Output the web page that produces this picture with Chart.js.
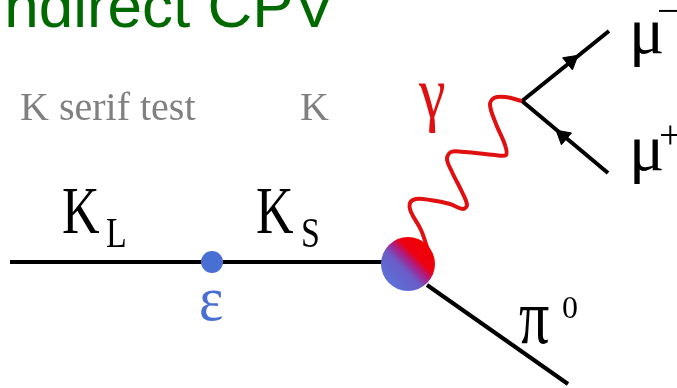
<!DOCTYPE html>
<html>
<head>
<meta charset="utf-8">
<script src="https://cdn.jsdelivr.net/npm/chart.js@4"></script>
</head>
<body style="margin:0">
<canvas id="diagram" width="677" height="388"></canvas>
<script>
// diagram values (x right, y down, in pixels of the 677x388 frame)
const kaonLine = [{ x: 10, y: 262 }, { x: 386, y: 262 }];
const pionLine = [{ x: 427, y: 285 }, { x: 568, y: 384 }];
const muMinusLine = [{ x: 522, y: 101 }, { x: 609, y: 31 }];
const muPlusLine = [{ x: 522, y: 101 }, { x: 608, y: 173 }];
const photonPath = [
    { x: 428, y: 250 }, { x: 421, y: 230 }, { x: 411, y: 212 }, { x: 410, y: 203 },
    { x: 416, y: 199 }, { x: 430, y: 200 }, { x: 450, y: 204 }, { x: 463, y: 209 },
    { x: 467, y: 205 }, { x: 462, y: 192 }, { x: 452, y: 172 }, { x: 447, y: 159 },
    { x: 451, y: 152 }, { x: 465, y: 152 }, { x: 495, y: 155 }, { x: 506, y: 155 },
    { x: 505, y: 145 }, { x: 496, y: 124 }, { x: 490, y: 105 }, { x: 494, y: 98 },
    { x: 505, y: 97 }, { x: 522, y: 101 },
];
const epsilonVertex = [{ x: 212, y: 262 }];
const blobVertex = [{ x: 408, y: 264 }];
const arrowPoints = [{ x: 571, y: 61 }, { x: 563, y: 136 }];
const arrowAngles = [51, -50];

const labelTexts = ["K", "L", "K", "S", "ε", "γ", "μ", "−", "μ", "+", "π", "0", "Indirect CPV",
    "K serif test", "K"];
const labelX = [62, 106, 256, 301, 199, 419, 629, 657, 629, 659, 519, 562, -13, 20, 300];
const labelY = [233, 247, 233, 247, 320, 117, 53, 24, 170, 148, 343, 318, 27, 120, 120];

const labelStyle = [
    { font: '52px "Liberation Serif"', color: "#000", sy: 1.3 },
    { font: '34px "Liberation Serif"', color: "#000", sy: 1.25 },
    { font: '52px "Liberation Serif"', color: "#000", sy: 1.3 },
    { font: '34px "Liberation Serif"', color: "#000", sy: 1.25 },
    { font: '58px "Liberation Serif"', color: "#4a6fd4", sy: 1.1 },
    { font: '60px "Liberation Serif"', color: "#e01010", sy: 1.25 },
    { font: '66px "Liberation Serif"', color: "#000", sy: 1 },
    { font: '40px "Liberation Serif"', color: "#000", sy: 1 },
    { font: '66px "Liberation Serif"', color: "#000", sy: 1 },
    { font: '40px "Liberation Serif"', color: "#000", sy: 1 },
    { font: '60px "Liberation Serif"', color: "#000", sy: 1.3 },
    { font: '32px "Liberation Serif"', color: "#000", sy: 1 },
    { font: '62px "Liberation Sans"', color: "#006a00", sy: 1 },
    { font: '40px "Liberation Serif"', color: "#808080", sy: 1 },
    { font: '40px "Liberation Serif"', color: "#808080", sy: 1 },
];

const labelPlugin = {
    id: "labels",
    afterDatasetsDraw(chart) {
        const c = chart.ctx;
        const xs = chart.scales.x;
        const ys = chart.scales.y;
        labelTexts.forEach((text, i) => {
            const st = labelStyle[i];
            c.save();
            c.font = st.font;
            c.fillStyle = st.color;
            c.translate(xs.getPixelForValue(labelX[i]), ys.getPixelForValue(labelY[i]));
            c.scale(1, st.sy);
            c.fillText(text, 0, 0);
            c.restore();
        });
    },
};

function blobFill(context) {
    const chart = context.chart;
    if (!chart.chartArea) return "#c03060";
    const cx = chart.scales.x.getPixelForValue(blobVertex[0].x);
    const cy = chart.scales.y.getPixelForValue(blobVertex[0].y);
    const g = chart.ctx.createLinearGradient(cx + 20, cy - 20, cx - 20, cy + 20);
    g.addColorStop(0, "#f00000");
    g.addColorStop(0.3, "#ee0010");
    g.addColorStop(0.45, "#a8208a");
    g.addColorStop(0.62, "#6a5cc8");
    g.addColorStop(1, "#5a72d8");
    return g;
}

function lineSet(data, color, width, order) {
    return {
        data: data,
        showLine: true,
        borderColor: color,
        borderWidth: width,
        pointRadius: 0,
        fill: false,
        order: order,
    };
}

new Chart(document.getElementById("diagram").getContext("2d"), {
    type: "scatter",
    data: {
        datasets: [
            {
                data: blobVertex,
                pointRadius: 27,
                pointBorderWidth: 0,
                pointBackgroundColor: blobFill,
                pointBorderColor: "rgba(0,0,0,0)",
                order: 0,
            },
            {
                data: epsilonVertex,
                pointRadius: 11,
                pointBorderWidth: 0,
                pointBackgroundColor: "#4a6fd4",
                pointBorderColor: "rgba(0,0,0,0)",
                order: 1,
            },
            {
                data: arrowPoints,
                pointStyle: "triangle",
                pointRadius: 9,
                pointRotation: arrowAngles,
                pointBackgroundColor: "#000",
                pointBorderColor: "#000",
                pointBorderWidth: 1,
                order: 1,
            },
            Object.assign(lineSet(photonPath, "#e01010", 4, 3), { tension: 0.35 }),
            lineSet(kaonLine, "#000", 4, 5),
            lineSet(pionLine, "#000", 4, 5),
            lineSet(muMinusLine, "#000", 4, 5),
            lineSet(muPlusLine, "#000", 4, 5),
        ],
    },
    options: {
        responsive: false,
        animation: false,
        layout: { padding: 0, autoPadding: false },
        plugins: {
            legend: { display: false },
            tooltip: { enabled: false },
        },
        scales: {
            x: { type: "linear", min: 0, max: 677, display: false },
            y: { type: "linear", min: 0, max: 388, reverse: true, display: false },
        },
    },
    plugins: [labelPlugin],
});
</script>
</body>
</html>
